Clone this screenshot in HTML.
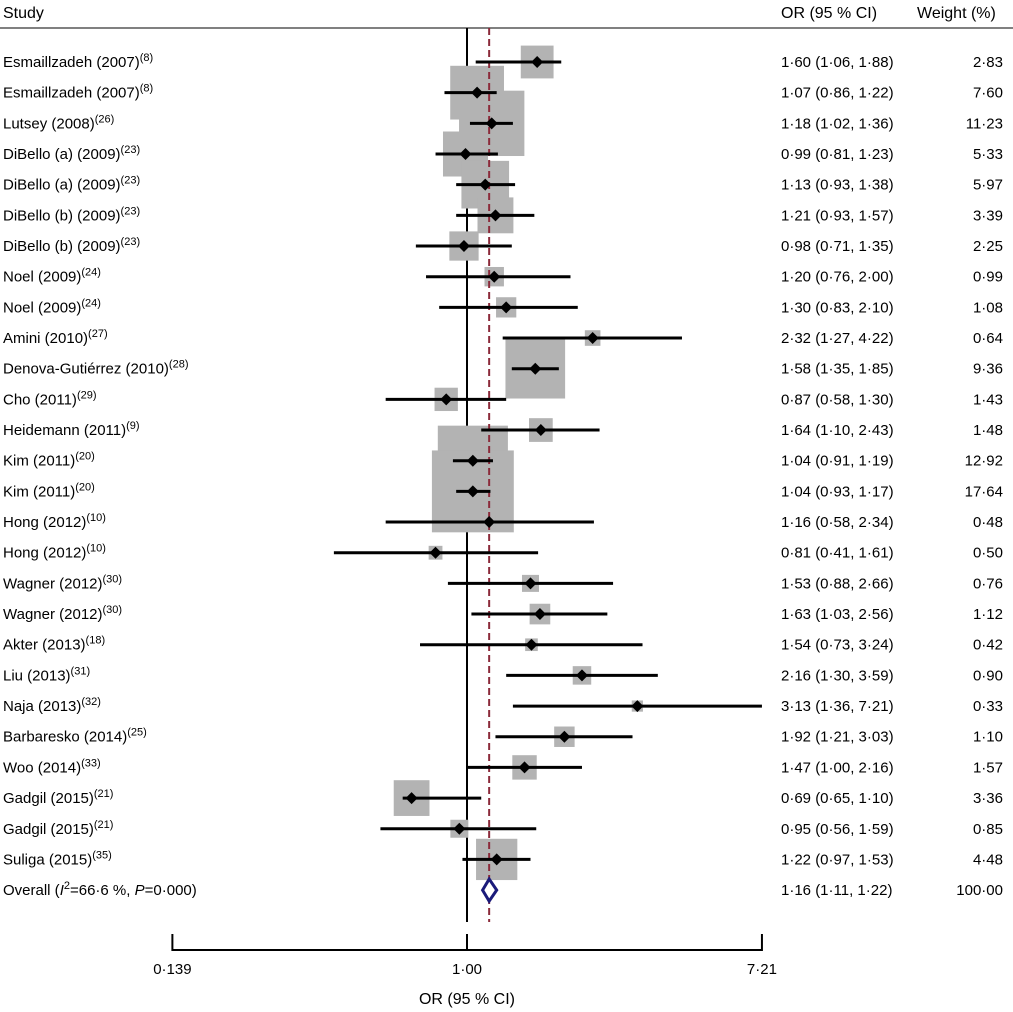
<!DOCTYPE html>
<html><head><meta charset="utf-8"><style>
html,body{margin:0;padding:0;background:#fff;}
svg{display:block;font-family:"Liberation Sans",sans-serif;}
</style></head><body>
<svg id="c" width="1013" height="1012" viewBox="0 0 1013 1012">
<text x="3" y="18" font-size="16">Study</text>
<text x="781" y="18" font-size="16">OR (95 % CI)</text>
<text x="917" y="18" font-size="16">Weight (%)</text>
<line x1="0" y1="28" x2="1013" y2="28" stroke="#000" stroke-width="1"/>
<g id="marks"></g>
</svg>
<script>
const studies=["Esmaillzadeh (2007)","Esmaillzadeh (2007)","Lutsey (2008)","DiBello (a) (2009)","DiBello (a) (2009)","DiBello (b) (2009)","DiBello (b) (2009)","Noel (2009)","Noel (2009)","Amini (2010)","Denova-Gutiérrez (2010)","Cho (2011)","Heidemann (2011)","Kim (2011)","Kim (2011)","Hong (2012)","Hong (2012)","Wagner (2012)","Wagner (2012)","Akter (2013)","Liu (2013)","Naja (2013)","Barbaresko (2014)","Woo (2014)","Gadgil (2015)","Gadgil (2015)","Suliga (2015)"];
const refs=["8","8","26","23","23","23","23","24","24","27","28","29","9","20","20","10","10","30","30","18","31","32","25","33","21","21","35"];
const orv=[1.60,1.07,1.18,0.99,1.13,1.21,0.98,1.20,1.30,2.32,1.58,0.87,1.64,1.04,1.04,1.16,0.81,1.53,1.63,1.54,2.16,3.13,1.92,1.47,0.69,0.95,1.22];
const lo=[1.06,0.86,1.02,0.81,0.93,0.93,0.71,0.76,0.83,1.27,1.35,0.58,1.10,0.91,0.93,0.58,0.41,0.88,1.03,0.73,1.30,1.36,1.21,1.00,0.65,0.56,0.97];
const hi=[1.88,1.22,1.36,1.23,1.38,1.57,1.35,2.00,2.10,4.22,1.85,1.30,2.43,1.19,1.17,2.34,1.61,2.66,2.56,3.24,3.59,7.21,3.03,2.16,1.10,1.59,1.53];
const weight=[2.83,7.60,11.23,5.33,5.97,3.39,2.25,0.99,1.08,0.64,9.36,1.43,1.48,12.92,17.64,0.48,0.50,0.76,1.12,0.42,0.90,0.33,1.10,1.57,3.36,0.85,4.48];
const overall=[1.16,1.11,1.22];
const overallWeight=100;
const ticks=[0.139,1.00,7.21];
const tickLabels=["0·139","1·00","7·21"];

const NS="http://www.w3.org/2000/svg";
const g=document.getElementById('marks');
const x=v=>467+149.3*Math.log(v);
const y=i=>62+i*30.67;
const f2=v=>v.toFixed(2).replace('.','·');
function mk(t,a,p){const e=document.createElementNS(NS,t);for(const k in a)e.setAttribute(k,a[k]);(p||g).appendChild(e);return e;}

const yTop=28,yBot=922;
let e=mk('line',{x1:x(1),y1:yTop,x2:x(1),y2:yBot,stroke:'#000','stroke-width':2});



studies.forEach((s,i)=>{
  const yy=y(i);
  const sz=19.5*Math.sqrt(weight[i]);
  let b=mk('rect',{x:x(orv[i])-sz/2,y:yy-sz/2,width:sz,height:sz,fill:'#b3b3b3'});
  
  
});
e=mk('line',{x1:x(overall[0]),y1:yTop,x2:x(overall[0]),y2:yBot,stroke:'#8b2a3a','stroke-width':2,'stroke-dasharray':'7,4'});



studies.forEach((s,i)=>{
  const yy=y(i);
  let l=mk('line',{x1:x(lo[i]),y1:yy,x2:Math.min(x(hi[i]),762),y2:yy,stroke:'#000','stroke-width':3});
  
  
  const cx=x(orv[i]);
  let d=mk('polygon',{points:`${cx-6},${yy} ${cx},${yy-6} ${cx+6},${yy} ${cx},${yy+6}`,fill:'#000'});
  
  
  let t=mk('text',{x:3,y:yy+5,'font-size':15});
  
  
  t.textContent=s;
  const sp=mk('tspan',{dy:-6,'font-size':11},t);sp.textContent='('+refs[i]+')';
  let o=mk('text',{x:781,y:yy+5,'font-size':15});
  
  
  o.textContent=`${f2(orv[i])} (${f2(lo[i])}, ${f2(hi[i])})`;
  let w=mk('text',{x:1003,y:yy+5,'font-size':15,'text-anchor':'end'});
  
  
  w.textContent=f2(weight[i]);
});
const oy=y(27);
let ot=mk('text',{x:3,y:oy+5,'font-size':15});


ot.innerHTML='Overall (<tspan font-style="italic">I</tspan><tspan dy="-6" font-size="11">2</tspan><tspan dy="6">=66·6 %, </tspan><tspan font-style="italic">P</tspan>=0·000)';
let od=mk('polygon',{points:`${x(overall[1])},${oy} ${x(overall[0])},${oy-11} ${x(overall[2])},${oy} ${x(overall[0])},${oy+11}`,fill:'#fff',stroke:'#1a1a7a','stroke-width':3});


let oo=mk('text',{x:781,y:oy+5,'font-size':15});


oo.textContent=`${f2(overall[0])} (${f2(overall[1])}, ${f2(overall[2])})`;
let ow=mk('text',{x:1003,y:oy+5,'font-size':15,'text-anchor':'end'});


ow.textContent=f2(overallWeight);
let ax=mk('line',{x1:x(ticks[0]),y1:950,x2:x(ticks[ticks.length-1]),y2:950,stroke:'#000','stroke-width':2});


ticks.forEach((t,i)=>{
  let tk=mk('line',{x1:x(t),y1:934,x2:x(t),y2:951,stroke:'#000','stroke-width':2});
  
  
  let tl=mk('text',{x:x(t),y:974,'font-size':15,'text-anchor':'middle'});
  
  
  tl.textContent=tickLabels[i];
});
let at=mk('text',{x:x(1),y:1004,'font-size':16,'text-anchor':'middle'});


at.textContent='OR (95 % CI)';
</script>
</body></html>
